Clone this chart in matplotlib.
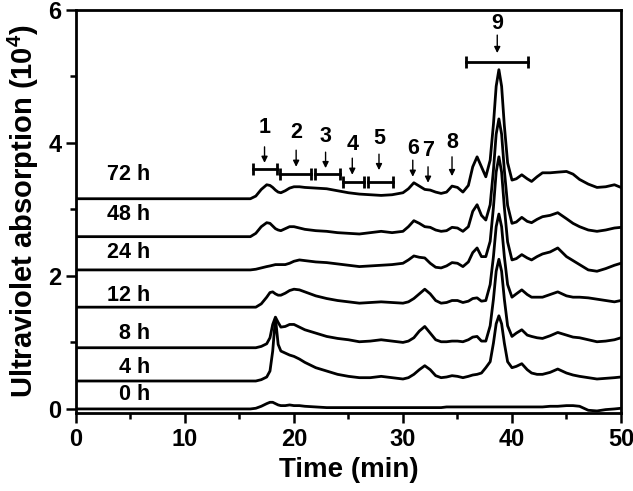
import numpy as np
import matplotlib
matplotlib.use("Agg")
import matplotlib.pyplot as plt

plt.rcParams['font.family'] = ['Liberation Sans', 'DejaVu Sans']
plt.rcParams['font.weight'] = 'bold'
plt.rcParams['axes.labelweight'] = 'bold'
plt.rcParams['mathtext.default'] = 'regular'

# retention time grid (min)
t = [0, 16, 16.5, 17, 17.5, 17.8, 18.05, 18.3, 18.55, 18.8,
     19.2, 19.6, 20, 20.5, 21, 22, 23, 24, 25, 26,
     27, 28, 29, 30, 30.5, 31, 31.5, 32, 32.5, 33,
     33.5, 34, 34.5, 35, 35.5, 36, 36.4, 36.8, 37.2, 37.6,
     38, 38.3, 38.55, 38.8, 39.05, 39.3, 39.6, 40, 40.4, 40.9,
     41.4, 41.8, 42.3, 42.8, 43.5, 44.2, 45, 45.6, 46.2, 47,
     47.8, 48.6, 49.4, 50]

labels = ['0 h', '4 h', '8 h', '12 h', '24 h', '48 h', '72 h']
baselines = [0.0, 0.42, 0.92, 1.53, 2.09, 2.59, 3.16]
label_y = [0.21, 0.62, 1.14, 1.71, 2.35, 2.92, 3.52]

# absorption above each baseline (10^4)
h0 = [0, 0, 0.01, 0.04, 0.08, 0.10, 0.10, 0.08, 0.06, 0.05,
      0.05, 0.06, 0.05, 0.05, 0.04, 0.03, 0.02, 0.02, 0.02, 0.02,
      0.02, 0.02, 0.02, 0.02, 0.02, 0.02, 0.02, 0.02, 0.02, 0.02,
      0.02, 0.03, 0.03, 0.03, 0.03, 0.03, 0.03, 0.03, 0.03, 0.03,
      0.03, 0.03, 0.03, 0.03, 0.03, 0.03, 0.03, 0.03, 0.03, 0.03,
      0.03, 0.03, 0.03, 0.03, 0.04, 0.04, 0.05, 0.05, 0.04, -0.02,
      -0.03, -0.01, 0.0, 0.01]
h4 = [0, 0, 0.0, 0.02, 0.06, 0.15, 0.45, 0.95, 0.55, 0.45,
      0.42, 0.39, 0.37, 0.33, 0.28, 0.20, 0.15, 0.10, 0.07, 0.05,
      0.05, 0.07, 0.05, 0.03, 0.05, 0.10, 0.17, 0.23, 0.17, 0.08,
      0.05, 0.06, 0.08, 0.07, 0.05, 0.07, 0.09, 0.10, 0.12, 0.20,
      0.29, 0.57, 0.86, 0.98, 0.86, 0.57, 0.29, 0.20, 0.22, 0.26,
      0.17, 0.12, 0.10, 0.10, 0.13, 0.18, 0.12, 0.09, 0.07, 0.05,
      0.03, 0.04, 0.05, 0.06]
h8 = [0, 0, 0.0, 0.02, 0.06, 0.15, 0.35, 0.46, 0.38, 0.31,
      0.32, 0.35, 0.35, 0.31, 0.27, 0.22, 0.17, 0.14, 0.12, 0.09,
      0.10, 0.12, 0.10, 0.08, 0.10, 0.15, 0.25, 0.32, 0.22, 0.12,
      0.09, 0.09, 0.10, 0.10, 0.09, 0.12, 0.16, 0.17, 0.10, 0.10,
      0.33, 0.73, 1.15, 1.33, 1.15, 0.73, 0.33, 0.17, 0.22, 0.27,
      0.19, 0.17, 0.15, 0.14, 0.18, 0.23, 0.19, 0.16, 0.15, 0.12,
      0.09, 0.10, 0.12, 0.15]
h12 = [0, 0, 0.0, 0.05, 0.15, 0.22, 0.23, 0.20, 0.18, 0.18,
       0.21, 0.25, 0.27, 0.26, 0.23, 0.17, 0.13, 0.10, 0.08, 0.06,
       0.07, 0.08, 0.07, 0.06, 0.08, 0.13, 0.20, 0.27, 0.20, 0.10,
       0.06, 0.07, 0.10, 0.10, 0.07, 0.09, 0.13, 0.14, 0.09, 0.10,
       0.34, 0.76, 1.21, 1.40, 1.21, 0.76, 0.34, 0.15, 0.20, 0.26,
       0.19, 0.15, 0.15, 0.15, 0.19, 0.23, 0.17, 0.15, 0.15, 0.14,
       0.12, 0.10, 0.08, 0.10]
h24 = [0, 0, 0.01, 0.03, 0.05, 0.06, 0.07, 0.08, 0.08, 0.08,
       0.08, 0.10, 0.13, 0.15, 0.14, 0.12, 0.11, 0.09, 0.07, 0.05,
       0.06, 0.07, 0.08, 0.10, 0.15, 0.21, 0.19, 0.18, 0.10, 0.04,
       0.03, 0.06, 0.11, 0.10, 0.05, 0.12, 0.26, 0.33, 0.20, 0.20,
       0.43, 0.94, 1.47, 1.70, 1.47, 0.94, 0.42, 0.15, 0.17, 0.23,
       0.18, 0.15, 0.20, 0.24, 0.27, 0.33, 0.20, 0.14, 0.08, 0.0,
       -0.02, 0.02, 0.07, 0.10]
h48 = [0, 0, 0.05, 0.15, 0.21, 0.20, 0.16, 0.12, 0.10, 0.09,
       0.12, 0.15, 0.15, 0.13, 0.11, 0.09, 0.08, 0.06, 0.05, 0.04,
       0.06, 0.08, 0.06, 0.08, 0.15, 0.24, 0.20, 0.15, 0.14, 0.10,
       0.08, 0.09, 0.14, 0.13, 0.08, 0.15, 0.38, 0.48, 0.32, 0.25,
       0.48, 1.00, 1.54, 1.77, 1.54, 1.00, 0.47, 0.20, 0.22, 0.29,
       0.23, 0.21, 0.26, 0.30, 0.32, 0.36, 0.27, 0.20, 0.15, 0.10,
       0.08, 0.10, 0.13, 0.14]
h72 = [0, 0, 0.04, 0.14, 0.21, 0.20, 0.17, 0.13, 0.10, 0.09,
       0.12, 0.16, 0.18, 0.18, 0.17, 0.16, 0.15, 0.12, 0.09, 0.07,
       0.06, 0.05, 0.06, 0.09, 0.15, 0.24, 0.19, 0.14, 0.13, 0.10,
       0.08, 0.10, 0.19, 0.17, 0.10, 0.20, 0.48, 0.63, 0.48, 0.33,
       0.58, 1.12, 1.69, 1.94, 1.69, 1.10, 0.54, 0.28, 0.30, 0.36,
       0.30, 0.26, 0.33, 0.39, 0.39, 0.40, 0.41, 0.37, 0.29, 0.22,
       0.17, 0.18, 0.21, 0.17]
traces = [h0, h4, h8, h12, h24, h48, h72]

# fraction markers
peak_ids = ['1', '2', '3', '4', '5', '6', '7', '8', '9']
peak_x = [17.3, 20.2, 22.9, 25.35, 27.8, 30.9, 32.3, 34.5, 38.65]
peak_lab_y = [4.23, 4.15, 4.09, 3.97, 4.07, 3.92, 3.89, 4.0, 5.79]
arrow_top = [3.94, 3.89, 3.86, 3.77, 3.83, 3.74, 3.64, 3.79, 5.62]
arrow_tip = [3.70, 3.64, 3.62, 3.52, 3.59, 3.49, 3.40, 3.50, 5.35]
bar_start = [16.2, 18.7, 21.9, 24.5, 26.8, 35.8]
bar_end = [18.4, 21.6, 24.2, 26.4, 29.1, 41.5]
bar_y = [3.61, 3.53, 3.53, 3.41, 3.41, 5.22]

fig = plt.figure(figsize=(6.33, 4.91), dpi=100)
ax = fig.add_axes([0.120, 0.159, 0.861, 0.821])

for lab, base, ly, h in zip(labels, baselines, label_y, traces):
    y = base + np.array(h)
    ax.plot(t, y, color='k', lw=2)
    ax.text(6.8, ly, lab, ha='right', va='center', fontsize=15.5, fontweight='bold')

for s, x, ly, a0, a1 in zip(peak_ids, peak_x, peak_lab_y, arrow_top, arrow_tip):
    ax.text(x, ly, s, ha='center', va='center', fontsize=15.5, fontweight='bold')
    ax.annotate('', xy=(x, a1), xytext=(x, a0),
                arrowprops=dict(arrowstyle='-|>', color='k', lw=1,
                                mutation_scale=9, shrinkA=0, shrinkB=0))

for x0, x1, yb in zip(bar_start, bar_end, bar_y):
    ax.plot([x0, x1], [yb, yb], color='k', lw=2)
    ax.plot([x0, x1], [yb, yb], ls='none', marker='|', ms=8, mew=2, color='k')

ax.set_xlim(0, 50)
ax.set_ylim(-0.06, 6)
ax.set_xticks([0, 10, 20, 30, 40, 50])
ax.set_xticks([5, 15, 25, 35, 45], minor=True)
ax.set_yticks([0, 2, 4, 6])
ax.set_yticks([1, 3, 5], minor=True)
ax.tick_params(which='both', direction='out', width=1.8, labelsize=17)
ax.tick_params(which='major', length=7)
ax.tick_params(which='minor', length=4)
for sp in ax.spines.values():
    sp.set_linewidth(2)

ax.set_xlabel('Time (min)', fontsize=20, labelpad=5)
ax.set_ylabel('Ultraviolet absorption (10$^4$)', fontsize=21, labelpad=5)

fig.savefig('out.png', dpi=100)
